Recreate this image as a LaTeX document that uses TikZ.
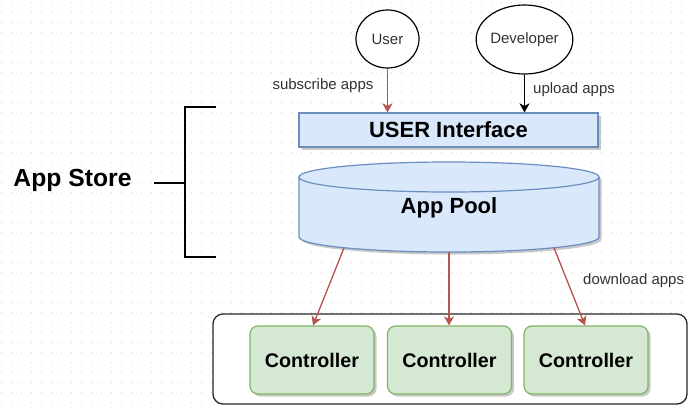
\documentclass[tikz,border=0pt]{standalone}
\usepackage{fontspec}
\setmainfont{Liberation Sans}
\usetikzlibrary{arrows.meta,shadows,shapes.geometric}

\definecolor{gridc}{HTML}{D4D4D4}
\definecolor{bluefill}{HTML}{DAE8FC}
\definecolor{bluedraw}{HTML}{6C8EBF}
\definecolor{greenfill}{HTML}{D5E8D4}
\definecolor{greendraw}{HTML}{82B366}
\definecolor{redline}{HTML}{B85450}
\definecolor{labelc}{HTML}{333333}

\tikzset{
  softshadow/.style={drop shadow={opacity=0.3, shadow xshift=2.5pt, shadow yshift=-2.5pt, fill=black!70}},
  actor/.style={ellipse, draw=black, line width=1.2pt, fill=white, inner sep=0pt,
    text=labelc, font=\fontsize{15}{18}\selectfont},
  uibox/.style={rectangle, draw=bluedraw, line width=1.2pt, fill=bluefill, inner sep=0pt,
    minimum width=299pt, minimum height=34pt, softshadow,
    font=\bfseries\fontsize{22}{26}\selectfont},
  ctrlbox/.style={rectangle, rounded corners=8pt, draw=greendraw, line width=1.2pt,
    fill=greenfill, inner sep=0pt, minimum width=124pt, minimum height=68pt, softshadow,
    font=\bfseries\fontsize{19.7}{23}\selectfont},
  edgelabel/.style={text=labelc, font=\fontsize{15}{18}\selectfont, inner sep=0pt},
  redarrow/.style={draw=redline, line width=1.3pt,
    -{Stealth[length=9pt, width=10pt, inset=2.5pt]}},
  blackarrow/.style={draw=black, line width=1.3pt,
    -{Stealth[length=9pt, width=10pt, inset=2.5pt]}},
}

\begin{document}
\begin{tikzpicture}[x=1pt, y=-1pt]
\useasboundingbox (0,0) rectangle (688,405);
\fill[white] (0,0) rectangle (688,405);

% dotted background grid
\foreach \y in {2,12,...,402}
  \draw[gridc, line width=1pt, dash pattern=on 1pt off 9pt] (0.5,\y) -- (688,\y);

% container holding the controllers
\draw[line width=1.3pt, draw=black!85, fill=white, rounded corners=10pt]
  (213,314) rectangle (687,404);

% actors
\node[actor, minimum width=63pt, minimum height=58pt] (user) at (387.5,39) {User};
\node[actor, minimum width=87pt, minimum height=69pt] (dev) at (524.5,39.5) {Developer};

% user interface bar
\node[uibox] (ui) at (448.5,130) {USER Interface};

% app pool cylinder
\path[softshadow, fill=bluefill] (299,177) -- (299,237)
  arc[start angle=180, end angle=360, x radius=150pt, y radius=15pt]
  -- (599,177)
  arc[start angle=0, end angle=180, x radius=150pt, y radius=15pt] -- cycle;
\draw[draw=bluedraw, line width=1.2pt] (299,177) -- (299,237)
  arc[start angle=180, end angle=360, x radius=150pt, y radius=15pt]
  -- (599,177)
  arc[start angle=0, end angle=180, x radius=150pt, y radius=15pt];
\draw[draw=bluedraw, line width=1.2pt] (299,177)
  arc[start angle=180, end angle=360, x radius=150pt, y radius=15pt];
\node[font=\bfseries\fontsize{22}{26}\selectfont] (pool) at (449,208) {App Pool};
\coordinate (pb1) at ([shift={(225.6:150pt and 15pt)}]449,237);
\coordinate (pb2) at ([shift={(270:150pt and 15pt)}]449,237);
\coordinate (pb3) at ([shift={(314.4:150pt and 15pt)}]449,237);

% controllers
\node[ctrlbox] (c1) at (312,360) {Controller};
\node[ctrlbox] (c2) at (449.5,360) {Controller};
\node[ctrlbox] (c3) at (586,360) {Controller};

% bracket grouping the app store parts
\draw[line width=2pt] (216,107) -- (185,107) -- (185,257) -- (216,257);
\coordinate (brk) at (185,183);
\node[font=\bfseries\fontsize{24.7}{29}\selectfont, inner sep=0pt] (store) at (72.5,180) {App Store};
\draw[line width=2pt] (154,183) -- (brk);

% connectors
\draw[redarrow] (user) -- (user |- ui.north);
\draw[blackarrow] (dev) -- (dev |- ui.north);
\draw[redarrow] (pb1) -- ([xshift=1pt]c1.north);
\draw[redarrow] (pb2) -- (c2.north -| pb2);
\draw[redarrow] (pb3) -- ([xshift=-1pt]c3.north);

% connector labels
\node[edgelabel] (lsub) at (323,86) {subscribe apps};
\node[edgelabel, anchor=west] (lup) at (533,90) {upload apps};
\node[edgelabel, anchor=west] (ldown) at (583,281) {download apps};
\end{tikzpicture}
\end{document}
